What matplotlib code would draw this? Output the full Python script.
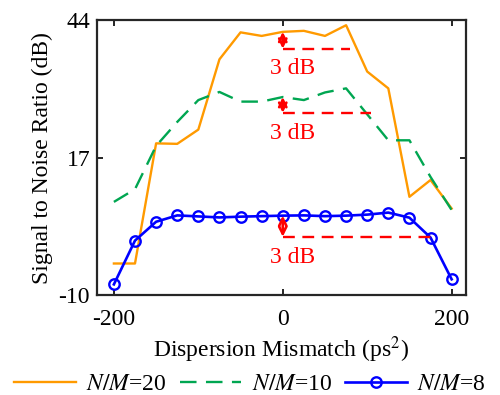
import matplotlib

matplotlib.use("Agg")
import matplotlib.pyplot as plt
import numpy as np

plt.rcParams["font.family"] = ["Liberation Serif", "DejaVu Serif"]
plt.rcParams["mathtext.fontset"] = "stix"
plt.rcParams["axes.unicode_minus"] = False

# dispersion mismatch (ps^2)
mismatch = np.arange(-200, 201, 25)

snr_nm20 = [-3.8, -3.8, 19.8, 19.7, 22.5, 36.3, 41.6, 40.9, 41.7, 41.9, 40.9, 43.0,
            33.9, 30.6, 9.3, 12.6, 7.0]
snr_nm10 = [8.3, 10.8, 19.3, 24.0, 28.3, 29.9, 28.0, 28.0, 28.9, 28.3, 29.8, 30.6,
            25.5, 20.4, 20.4, 13.2, 6.7]
snr_nm8 = [-7.9, 0.7, 4.4, 5.65, 5.45, 5.25, 5.4, 5.5, 5.6, 5.65, 5.5, 5.6,
           5.8, 6.2, 5.2, 1.3, -6.9]

series_labels = ["$N/M$=20", "$N/M$=10", "$N/M$=8"]

# 3 dB markers: (peak level, level 3 dB down, end of dashed line, text y)
drop_top = [41.7, 28.9, 5.6]
drop_low = [38.4, 25.8, 1.45]
drop_end = [80, 105, 175]
drop_text_y = [34.6, 21.8, -2.7]

x_ticks = [-200, 0, 200]
y_ticks = [-10, 17, 44]

fs = 17

fig = plt.figure(figsize=(5.0, 3.95), dpi=100)
ax = fig.add_axes([0.194, 0.253, 0.738, 0.696])

ax.plot(mismatch, snr_nm20, color="#FF9A00", lw=1.7, label=series_labels[0])
ax.plot(mismatch, snr_nm10, color="#00A651", lw=1.7, dashes=(7, 4), label=series_labels[1])
ax.plot(mismatch, snr_nm8, color="#0000FF", lw=1.9, marker="o", ms=7.5,
        mfc="none", mew=1.7, label=series_labels[2])

for top, low, end, ty in zip(drop_top, drop_low, drop_end, drop_text_y):
    ax.plot([0, end], [low, low], color="red", lw=1.7, dashes=(5, 3.2))
    ax.annotate("", xy=(0, low), xytext=(0, top),
                arrowprops=dict(arrowstyle="<->", color="red", lw=1.9,
                                shrinkA=0, shrinkB=0, mutation_scale=13))
    ax.text(12, ty, "3 dB", color="red", fontsize=fs, ha="center", va="center")

ax.set_xlim(-220, 217)
ax.set_ylim(-10, 44)
ax.set_xticks(x_ticks)
ax.set_yticks(y_ticks)
ax.tick_params(direction="in", length=4, width=1.2, labelsize=fs, top=True, right=True)
ax.tick_params(axis="x", pad=10)
ax.tick_params(axis="y", pad=5)
for s in ax.spines.values():
    s.set_linewidth(1.6)
    s.set_color("#262626")

ax.set_xlabel("Dispersion Mismatch (ps$^2$)", fontsize=fs, labelpad=3)
ax.set_ylabel("Signal to Noise Ratio (dB)", fontsize=fs, labelpad=4)

fig.legend(loc="lower center", bbox_to_anchor=(0.5, -0.055), ncol=3, frameon=False,
           fontsize=fs, handlelength=2.6, columnspacing=0.55, handletextpad=0.45)

fig.savefig("out.png", dpi=100)
